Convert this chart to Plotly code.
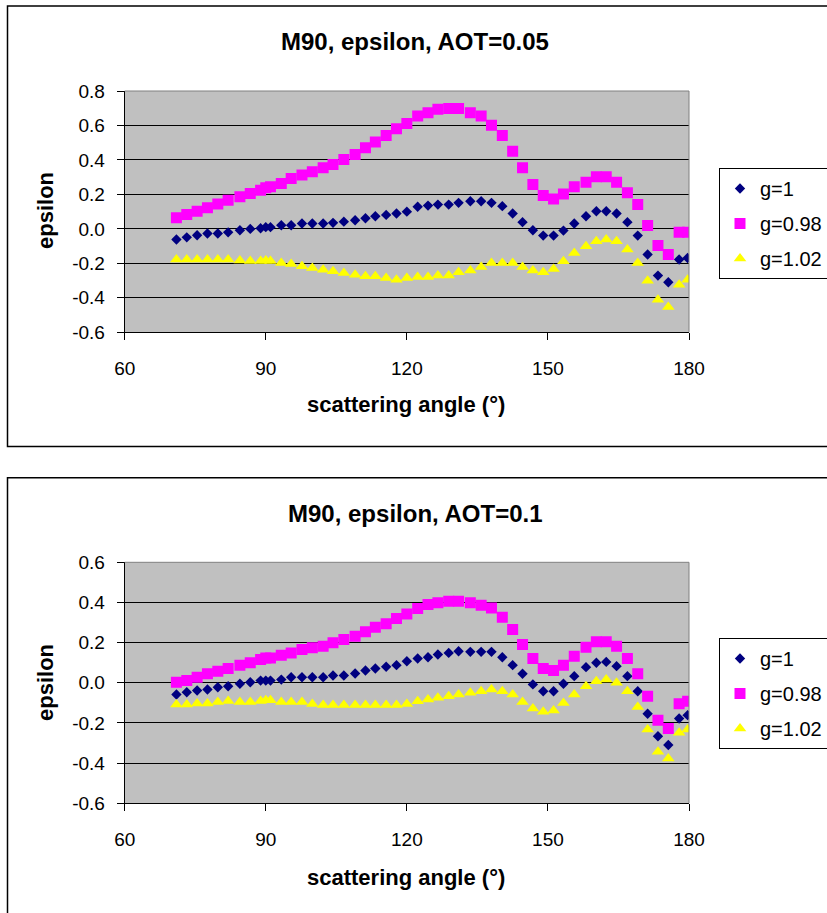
import plotly.graph_objects as go

# ---------------- data ----------------
angles = [71.0, 73.2, 75.4, 77.6, 79.8, 82.0, 84.5, 86.7, 88.9, 90.0, 91.0, 93.3, 95.4, 97.7,
          99.9, 102.2, 104.3, 106.6, 109.0, 111.2, 113.3, 115.6, 117.8, 120.0, 122.3, 124.5,
          126.6, 128.9, 131.0, 133.5, 135.8, 138.0, 140.3, 142.5, 144.6, 146.8, 149.0, 151.2,
          153.3, 155.6, 158.1, 160.3, 162.4, 164.6, 166.9, 169.1, 171.2, 173.4, 175.6, 177.9, 179.7]

top_g1 = [-0.062, -0.049, -0.037, -0.027, -0.027, -0.020, -0.008, 0.000, 0.004, 0.010, 0.010, 0.021,
          0.021, 0.031, 0.031, 0.031, 0.035, 0.042, 0.050, 0.062, 0.073, 0.081, 0.089, 0.100,
          0.128, 0.135, 0.141, 0.141, 0.151, 0.160, 0.160, 0.151, 0.132, 0.089, 0.039, -0.008,
          -0.039, -0.039, -0.010, 0.031, 0.073, 0.102, 0.102, 0.089, 0.039, -0.039, -0.149,
          -0.271, -0.310, -0.178, -0.169]
top_g098 = [0.064, 0.083, 0.102, 0.122, 0.145, 0.166, 0.186, 0.205, 0.224, 0.238, 0.244, 0.263,
            0.292, 0.312, 0.331, 0.355, 0.374, 0.403, 0.432, 0.471, 0.504, 0.542, 0.581, 0.612,
            0.655, 0.674, 0.694, 0.698, 0.698, 0.674, 0.655, 0.601, 0.542, 0.451, 0.355, 0.258,
            0.194, 0.174, 0.203, 0.244, 0.271, 0.302, 0.302, 0.271, 0.209, 0.141, 0.019,
            -0.097, -0.149, -0.020, -0.020]
top_g102 = [-0.178, -0.178, -0.178, -0.178, -0.178, -0.178, -0.184, -0.186, -0.186, -0.184, -0.186,
            -0.198, -0.204, -0.217, -0.227, -0.237, -0.246, -0.256, -0.266, -0.275, -0.275, -0.285,
            -0.295, -0.285, -0.279, -0.279, -0.271, -0.271, -0.252, -0.241, -0.221, -0.198, -0.198,
            -0.198, -0.221, -0.241, -0.252, -0.233, -0.188, -0.140, -0.101, -0.072, -0.062, -0.072,
            -0.120, -0.198, -0.301, -0.411, -0.453, -0.324, -0.295]

bot_g1 = [-0.058, -0.047, -0.038, -0.033, -0.022, -0.017, -0.005, 0.003, 0.011, 0.011, 0.011, 0.016,
          0.028, 0.028, 0.028, 0.028, 0.036, 0.036, 0.046, 0.061, 0.071, 0.080, 0.088, 0.107,
          0.121, 0.127, 0.141, 0.149, 0.157, 0.154, 0.154, 0.154, 0.127, 0.088, 0.045, -0.008,
          -0.042, -0.042, -0.005, 0.033, 0.078, 0.100, 0.104, 0.083, 0.033, -0.042, -0.154,
          -0.266, -0.310, -0.178, -0.161]
bot_g098 = [0.003, 0.011, 0.028, 0.045, 0.058, 0.071, 0.088, 0.100, 0.116, 0.124, 0.124, 0.137,
            0.149, 0.166, 0.174, 0.182, 0.199, 0.215, 0.232, 0.254, 0.277, 0.294, 0.320, 0.343,
            0.370, 0.390, 0.398, 0.406, 0.406, 0.398, 0.386, 0.373, 0.326, 0.265, 0.191, 0.121,
            0.071, 0.061, 0.088, 0.132, 0.177, 0.204, 0.204, 0.182, 0.121, 0.045, -0.067,
            -0.186, -0.227, -0.104, -0.092]
bot_g102 = [-0.108, -0.108, -0.103, -0.103, -0.095, -0.091, -0.095, -0.095, -0.091, -0.087, -0.087,
            -0.095, -0.095, -0.095, -0.105, -0.111, -0.111, -0.111, -0.111, -0.111, -0.111, -0.111,
            -0.111, -0.105, -0.092, -0.083, -0.075, -0.067, -0.058, -0.050, -0.042, -0.033, -0.042,
            -0.058, -0.095, -0.128, -0.144, -0.138, -0.100, -0.058, -0.017, 0.008, 0.016, 0.000,
            -0.042, -0.121, -0.232, -0.343, -0.377, -0.249, -0.232]

series_names = ["g=1", "g=0.98", "g=1.02"]
chart_titles = ["M90, epsilon, AOT=0.05", "M90, epsilon, AOT=0.1"]
x_title = "scattering angle (°)"
y_title = "epsilon"
x_tickvals = [60, 90, 120, 150, 180]
x_ticktext = ["60", "90", "120", "150", "180"]
top_y_tickvals = [-0.6, -0.4, -0.2, 0.0, 0.2, 0.4, 0.6, 0.8]
top_y_ticktext = ["-0.6", "-0.4", "-0.2", "0.0", "0.2", "0.4", "0.6", "0.8"]
bot_y_tickvals = [-0.6, -0.4, -0.2, 0.0, 0.2, 0.4, 0.6]
bot_y_ticktext = ["-0.6", "-0.4", "-0.2", "0.0", "0.2", "0.4", "0.6"]

# ---------------- styling ----------------
W, H = 827, 913
FONT = "Arial, Liberation Sans, sans-serif"
def px(x):
    return x / W
def py(y):
    return 1 - y / H

styles = [
    dict(symbol="diamond", color="#000080", size=8),
    dict(symbol="square", color="#FF00FF", size=11),
    dict(symbol="triangle-up", color="#FFFF00", size=11),
]

fig = go.Figure()
panels = [
    ("x", "y", "legend", [top_g1, top_g098, top_g102]),
    ("x2", "y2", "legend2", [bot_g1, bot_g098, bot_g102]),
]
for xa, ya, lg, sers in panels:
    for i, (name, vals) in enumerate(zip(series_names, sers)):
        st = styles[i]
        fig.add_trace(go.Scatter(
            x=angles, y=vals, mode="markers", name=name,
            xaxis=xa, yaxis=ya, legend=lg, legendgroup=f"{lg}_{i}",
            marker=dict(symbol=st["symbol"], color=st["color"], size=st["size"],
                        line=dict(width=0)),
        ))

xdom = [px(124.7), px(689.0)]
common_x = dict(range=[60, 180], tickvals=x_tickvals, ticktext=x_ticktext,
                showline=True, linecolor="black", linewidth=1, ticks="outside",
                ticklen=7, tickcolor="black", showgrid=False, zeroline=False,
                tickfont=dict(family=FONT, size=19, color="black"),
                ticklabelstandoff=12, domain=xdom)
common_y = dict(showline=True, linecolor="black", linewidth=1, ticks="outside",
                ticklen=7, tickcolor="black", showgrid=True, gridcolor="black",
                gridwidth=1, zeroline=False,
                tickfont=dict(family=FONT, size=19, color="black"),
                ticklabelstandoff=8)

legend_common = dict(xanchor="left", yanchor="top", bordercolor="black", borderwidth=1,
                     bgcolor="white", font=dict(family=FONT, size=20, color="black"),
                     tracegroupgap=6, traceorder="grouped")

fig.update_layout(
    width=W, height=H,
    margin=dict(l=0, r=0, t=0, b=0, autoexpand=False),
    paper_bgcolor="white", plot_bgcolor="#C0C0C0",
    font=dict(family=FONT, color="black"),
    xaxis=dict(**common_x, anchor="y"),
    yaxis=dict(**common_y, anchor="x", range=[-0.6, 0.8], tickvals=top_y_tickvals,
               ticktext=top_y_ticktext, domain=[py(332.3), py(91.0)]),
    xaxis2=dict(**common_x, anchor="y2"),
    yaxis2=dict(**common_y, anchor="x2", range=[-0.6, 0.6], tickvals=bot_y_tickvals,
                ticktext=bot_y_ticktext, domain=[py(803.3), py(562.3)]),
    legend=dict(x=px(719), y=py(168), **legend_common),
    legend2=dict(x=px(719), y=py(638), **legend_common),
    showlegend=True,
)

shapes = []
# outer chart frames
shapes.append(dict(type="rect", xref="paper", yref="paper", x0=px(7.5), x1=1.02,
                   y0=py(446.5), y1=py(6), line=dict(color="black", width=1.5)))
shapes.append(dict(type="rect", xref="paper", yref="paper", x0=px(7.5), x1=1.02,
                   y0=-0.02, y1=py(477.7), line=dict(color="black", width=1.5)))
# plot-area gray top/right borders
for xa, ya in [("x", "y"), ("x2", "y2")]:
    shapes.append(dict(type="line", xref=f"{xa} domain", yref=f"{ya} domain",
                       x0=0, x1=1, y0=1, y1=1, line=dict(color="#808080", width=1)))
    shapes.append(dict(type="line", xref=f"{xa} domain", yref=f"{ya} domain",
                       x0=1, x1=1, y0=0, y1=1, line=dict(color="#808080", width=1)))
fig.update_layout(shapes=shapes)

ann = []
for title, ty, xty, yty in [(chart_titles[0], 42, 404, 211), (chart_titles[1], 513, 877, 683)]:
    ann.append(dict(text=title, x=px(415), y=py(ty), xref="paper", yref="paper",
                    showarrow=False, xanchor="center", yanchor="middle",
                    font=dict(family=FONT, size=24, color="black", weight="bold")))
    ann.append(dict(text=x_title, x=px(406), y=py(xty), xref="paper", yref="paper",
                    showarrow=False, xanchor="center", yanchor="middle",
                    font=dict(family=FONT, size=22, color="black", weight="bold")))
    ann.append(dict(text=y_title, x=px(45), y=py(yty), xref="paper", yref="paper",
                    showarrow=False, xanchor="center", yanchor="middle", textangle=-90,
                    font=dict(family=FONT, size=22, color="black", weight="bold")))
fig.update_layout(annotations=ann)

fig.write_html(
    "out.html",
    config={"displayModeBar": False},
    post_script="document.body.style.margin='0';document.body.style.overflow='hidden';",
)
